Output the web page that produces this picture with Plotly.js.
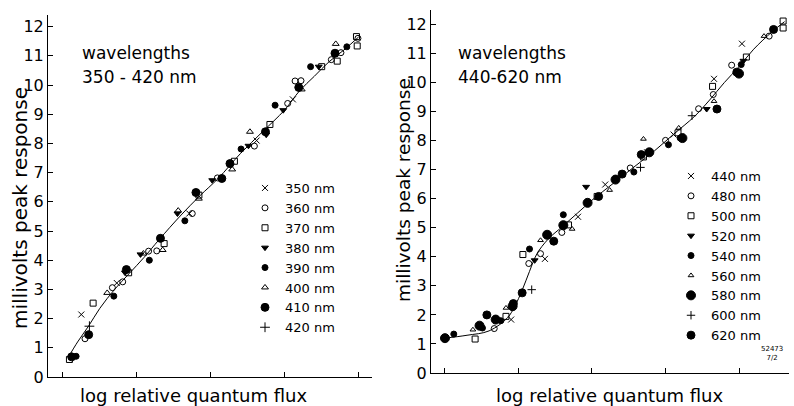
<!DOCTYPE html>
<html>
<head>
<meta charset="utf-8">
<script src="https://cdn.plot.ly/plotly-3.0.1.min.js"></script>
<style>html,body{margin:0;padding:0;background:#fff;}#chart{width:794px;height:406px;}</style>
</head>
<body>
<div id="chart"></div>
<script>
// ---------- Left panel: wavelengths 350-420 nm ----------
const x350 = [0.25, 0.73, 1.71, 2.62, 3.11];
const y350 = [2.14, 3.22, 5.60, 8.10, 9.51];
const x360 = [0.30, 0.67, 0.81, 1.16, 1.27, 1.75, 2.09, 2.59, 3.04, 3.14, 3.22, 3.63, 3.76, 3.99];
const y360 = [1.31, 3.06, 3.26, 4.31, 4.32, 5.60, 6.82, 7.91, 9.37, 10.14, 10.15, 10.87, 11.11, 11.60];
const x370 = [0.09, 0.41, 0.89, 1.37, 1.84, 2.32, 2.80, 3.50, 3.71, 3.97, 3.98];
const y370 = [0.60, 2.53, 3.57, 4.57, 6.23, 7.39, 8.65, 10.63, 10.82, 11.66, 11.34];
const x380 = [0.84, 1.05, 1.55, 2.02, 2.51, 2.75, 2.98, 3.46];
const y380 = [3.58, 4.20, 5.60, 6.74, 7.92, 8.30, 9.14, 10.63];
const x390 = [0.18, 0.69, 1.17, 1.65, 2.41, 2.87, 3.35, 3.84];
const y390 = [0.71, 2.77, 4.00, 5.35, 7.81, 9.31, 10.63, 11.31];
const x400 = [0.60, 1.09, 1.35, 1.56, 1.84, 2.29, 2.53, 3.23, 3.69];
const y400 = [2.88, 4.23, 4.35, 5.70, 6.11, 7.11, 8.40, 9.85, 11.41];
const x410 = [0.12, 0.35, 0.86, 1.32, 1.80, 2.15, 2.26, 2.74, 3.19, 3.68];
const y410 = [0.69, 1.45, 3.68, 4.75, 6.32, 6.80, 7.31, 8.40, 9.92, 11.09];
const x420 = [0.36];
const y420 = [1.74];
const xFitL = [0.08, 0.2, 0.35, 0.5, 0.7, 0.9, 1.1, 1.3, 1.6, 1.85, 2.1, 2.4, 2.7, 3.0, 3.2, 3.4, 3.6, 3.8, 4.0];
const yFitL = [0.70, 1.20, 1.75, 2.35, 3.00, 3.55, 4.10, 4.70, 5.55, 6.20, 6.80, 7.65, 8.40, 9.15, 9.80, 10.30, 10.80, 11.20, 11.65];

// ---------- Right panel: wavelengths 440-620 nm ----------
const x440 = [0.90, 1.36, 1.81, 2.18, 2.75, 3.11, 3.66, 4.04];
const y440 = [1.84, 3.93, 5.38, 6.49, 7.60, 8.21, 10.13, 11.34];
const x480 = [0.67, 1.14, 1.30, 1.59, 2.52, 3.00, 3.45, 3.65, 3.90, 4.41];
const y480 = [1.53, 3.77, 4.11, 4.84, 7.06, 8.01, 9.10, 9.59, 10.60, 11.60];
const x500 = [0.41, 0.83, 1.06, 1.68, 2.07, 2.70, 3.17, 3.64, 4.10, 4.60, 4.60];
const y500 = [1.17, 1.95, 4.08, 5.10, 6.08, 7.44, 8.27, 9.87, 10.88, 12.12, 11.88];
const x520 = [1.22, 1.92, 3.56, 4.06];
const y520 = [3.88, 6.41, 9.09, 10.75];
const x540 = [0.12, 0.51, 0.76, 1.15, 1.61, 2.57, 3.04, 3.20, 4.03];
const y540 = [1.34, 1.55, 1.80, 4.27, 5.45, 6.92, 7.86, 8.09, 10.62];
const x560 = [0.38, 0.83, 1.30, 1.73, 2.24, 2.70, 3.18, 3.66, 4.34];
const y560 = [1.49, 2.24, 4.57, 4.96, 6.30, 8.06, 8.44, 9.36, 11.60];
const x580 = [0.00, 0.47, 0.69, 0.92, 1.39, 1.61, 1.94, 2.32, 2.78, 3.23, 4.00];
const y580 = [1.20, 1.63, 1.84, 2.30, 4.76, 5.09, 5.86, 6.66, 7.60, 8.09, 10.31];
const x600 = [1.18, 2.66, 3.36];
const y600 = [2.87, 7.08, 8.86];
const x620 = [0.57, 0.93, 1.05, 1.48, 2.09, 2.41, 2.67, 3.70, 3.97, 4.47];
const y620 = [2.00, 2.39, 2.76, 4.54, 6.08, 6.85, 7.52, 9.09, 10.36, 11.83];
const xFitR = [0.0, 0.3, 0.6, 0.85, 0.95, 1.05, 1.15, 1.25, 1.4, 1.6, 1.8, 2.0, 2.3, 2.6, 2.85, 3.1, 3.4, 3.6, 3.8, 4.0, 4.2, 4.45, 4.62];
const yFitR = [1.20, 1.30, 1.45, 1.90, 2.30, 2.85, 3.50, 4.10, 4.60, 5.05, 5.50, 5.95, 6.55, 7.15, 7.65, 8.20, 8.85, 9.40, 10.00, 10.55, 11.15, 11.75, 12.10];

const yTicks = [0,1,2,3,4,5,6,7,8,9,10,11,12];
const xTicks = [0,1,2,3,4];

const K = '#000';
function pts(x, y, name, symbol, size, xa, ya, leg) {
  return {x: x, y: y, name: name, type: 'scatter', mode: 'markers', xaxis: xa, yaxis: ya, legend: leg,
    marker: {symbol: symbol, size: size, color: K, line: {color: K, width: 1}}};
}
const data = [
  {x: xFitL, y: yFitL, type: 'scatter', mode: 'lines', line: {color: K, width: 1, shape: 'spline'}, showlegend: false, xaxis: 'x', yaxis: 'y', hoverinfo: 'skip'},
  pts(x350, y350, '350 nm', 'x-thin', 6, 'x', 'y', 'legend'),
  pts(x360, y360, '360 nm', 'circle-open', 6, 'x', 'y', 'legend'),
  pts(x370, y370, '370 nm', 'square-open', 6, 'x', 'y', 'legend'),
  pts(x380, y380, '380 nm', 'triangle-down', 6, 'x', 'y', 'legend'),
  pts(x390, y390, '390 nm', 'circle', 6, 'x', 'y', 'legend'),
  pts(x400, y400, '400 nm', 'triangle-up-open', 6, 'x', 'y', 'legend'),
  pts(x410, y410, '410 nm', 'circle', 8, 'x', 'y', 'legend'),
  pts(x420, y420, '420 nm', 'cross-thin', 7, 'x', 'y', 'legend'),
  {x: xFitR, y: yFitR, type: 'scatter', mode: 'lines', line: {color: K, width: 1, shape: 'spline'}, showlegend: false, xaxis: 'x2', yaxis: 'y2', hoverinfo: 'skip'},
  pts(x440, y440, '440 nm', 'x-thin', 6, 'x2', 'y2', 'legend2'),
  pts(x480, y480, '480 nm', 'circle-open', 6, 'x2', 'y2', 'legend2'),
  pts(x500, y500, '500 nm', 'square-open', 6, 'x2', 'y2', 'legend2'),
  pts(x520, y520, '520 nm', 'triangle-down', 6, 'x2', 'y2', 'legend2'),
  pts(x540, y540, '540 nm', 'circle', 6, 'x2', 'y2', 'legend2'),
  pts(x560, y560, '560 nm', 'triangle-up-open', 5, 'x2', 'y2', 'legend2'),
  pts(x580, y580, '580 nm', 'circle', 9, 'x2', 'y2', 'legend2'),
  pts(x600, y600, '600 nm', 'cross-thin', 6, 'x2', 'y2', 'legend2'),
  pts(x620, y620, '620 nm', 'circle', 8, 'x2', 'y2', 'legend2')
];

const W = 794, H = 406;
const FONT = 'DejaVu Sans, sans-serif';
function yax(dom, rng) {
  return {domain: dom, range: rng, tickvals: yTicks, ticktext: yTicks.map(String), ticks: 'inside', ticklen: 5,
    tickcolor: K, showline: true, linecolor: K, linewidth: 1, showgrid: false, zeroline: false,
    tickfont: {family: FONT, size: 16, color: K}, ticklabelstandoff: 0, fixedrange: true};
}
function xax(dom, rng, anchor) {
  return {domain: dom, range: rng, tickvals: xTicks, ticks: 'inside', ticklen: 5, tickcolor: K, anchor: anchor,
    showticklabels: false, showline: true, linecolor: K, linewidth: 1, showgrid: false, zeroline: false, fixedrange: true};
}
function legendAt(px, py) {
  return {x: px / W, y: 1 - py / H, xanchor: 'left', yanchor: 'top', bgcolor: 'rgba(0,0,0,0)',
    font: {family: FONT, size: 13, color: K}, tracegroupgap: 0, borderwidth: 0};
}
function txt(px, py, s, size, extra) {
  return Object.assign({xref: 'paper', yref: 'paper', x: px / W, y: 1 - py / H, text: s, showarrow: false,
    xanchor: 'left', yanchor: 'middle', font: {family: FONT, size: size, color: K}}, extra || {});
}
const layout = {
  width: W, height: H, margin: {l: 0, r: 0, t: 0, b: 0}, paper_bgcolor: '#fff', plot_bgcolor: '#fff',
  xaxis: xax([48 / W, 372 / W], [-0.2, 4.18], 'y'),
  yaxis: yax([(H - 377) / H, (H - 15) / H], [0, 12.4]),
  xaxis2: xax([431 / W, 789 / W], [-0.19, 4.68], 'y2'),
  yaxis2: Object.assign(yax([(H - 373) / H, (H - 10) / H], [0, 12.5]), {anchor: 'x2'}),
  legend: legendAt(245, 173),
  legend2: legendAt(671, 161),
  annotations: [
    txt(80, 53, 'wavelengths', 17),
    txt(80, 77, '350 - 420 nm', 17),
    txt(456, 53, 'wavelengths', 17),
    txt(456, 77, '440-620 nm', 17),
    txt(194, 395, 'log relative quantum flux', 18, {xanchor: 'center'}),
    txt(610, 395, 'log relative quantum flux', 18, {xanchor: 'center'}),
    txt(20, 208, 'millivolts peak response', 20, {xanchor: 'center', textangle: -90}),
    txt(403, 190, 'millivolts peak response', 18.5, {xanchor: 'center', textangle: -90}),
    txt(772, 353, '52473<br>7/2', 7, {xanchor: 'center'})
  ],
  showlegend: true
};
Plotly.newPlot('chart', data, layout, {staticPlot: true, displayModeBar: false});
</script>
</body>
</html>
